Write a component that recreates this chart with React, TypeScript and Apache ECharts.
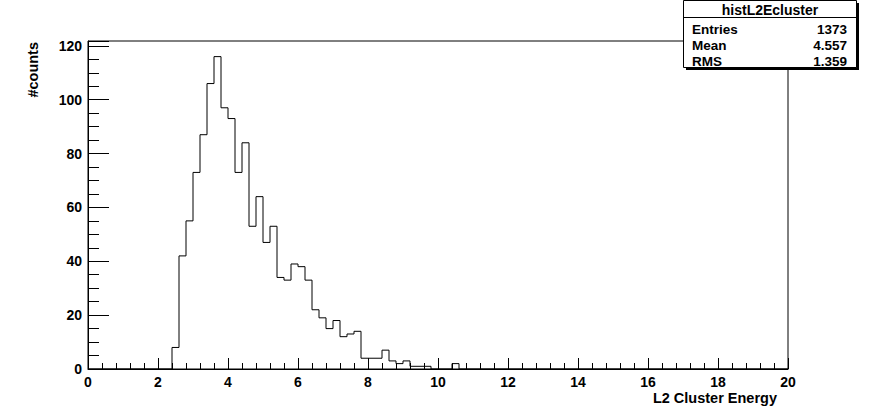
import React, { useEffect, useRef } from "react";
import * as echarts from "echarts";

// ---- data ----
const histName = "histL2Ecluster";
const xTitle = "L2 Cluster Energy";
const yTitle = "#counts";
const xMin = 0;
const xMax = 20;
const binWidth = 0.2;
const firstFilledEdge = 2.4; // left edge of first non-empty bin
const binCounts = [
  8, 42, 55, 73, 87, 106, 116, 97, 93, 73, 84, 53, 64, 47, 53, 34, 33, 39, 38, 33,
  22, 19, 15, 18, 12, 13, 14, 4, 4, 4, 7, 3, 2, 3, 1, 1, 1, 0, 0, 0, 2,
];
const yMax = 121.8;
const yMajorStep = 20;
const yMinorStep = 5;
const xMajorStep = 2;
const statLabels = ["Entries", "Mean", "RMS"];
const statValues = ["1373", "4.557", "1.359"];

const FONT = "'Liberation Sans', Arial, Helvetica, sans-serif";

function buildStepData(): [number, number][] {
  const nBins = Math.round((xMax - xMin) / binWidth);
  const startIdx = Math.round((firstFilledEdge - xMin) / binWidth);
  const pts: [number, number][] = [];
  let last = 0;
  for (let i = 0; i < nBins; i++) {
    const edge = +(xMin + i * binWidth).toFixed(6);
    const j = i - startIdx;
    const v = j >= 0 && j < binCounts.length ? binCounts[j] : 0;
    pts.push([edge, v]);
    last = v;
  }
  pts.push([xMax, last]);
  return pts;
}

export default function App() {
  const ref = useRef<HTMLDivElement>(null);
  useEffect(() => {
    if (!ref.current) return;
    const chart = echarts.init(ref.current, undefined, { renderer: "svg" });
    const boxL = 683.5;
    const boxT = 0.5;
    const boxW = 173;
    const boxH = 67;
    const rowYs = [29.5, 45.5, 61];
    const option: any = {
      animation: false,
      backgroundColor: "#fff",
      textStyle: { fontFamily: FONT },
      grid: {
        left: 88,
        right: 87,
        top: 41,
        bottom: 42,
        show: true,
        borderColor: "#000",
        borderWidth: 1,
        backgroundColor: "transparent",
        containLabel: false,
        outerBoundsMode: "none",
      },
      xAxis: {
        type: "value",
        min: xMin,
        max: xMax,
        interval: xMajorStep,
        axisLine: { show: true, onZero: false, lineStyle: { color: "#000", width: 1 } },
        axisTick: { show: true, inside: true, length: 11, lineStyle: { color: "#000" } },
        minorTick: { show: true, splitNumber: 5, length: 6, lineStyle: { color: "#000" } },
        splitLine: { show: false },
        minorSplitLine: { show: false },
        axisLabel: {
          color: "#000",
          fontWeight: "bold",
          fontSize: 14,
          fontFamily: FONT,
          margin: 6,
        },
      },
      yAxis: [
        {
          type: "value",
          min: 0,
          max: yMax,
          interval: yMajorStep,
          axisLine: { show: true, onZero: false, lineStyle: { color: "#000", width: 1 } },
          axisTick: { show: true, inside: true, length: 21, lineStyle: { color: "#000" } },
          splitLine: { show: false },
          axisLabel: {
            color: "#000",
            fontWeight: "bold",
            fontSize: 14,
            fontFamily: FONT,
            margin: 6,
            formatter: (v: number) =>
              Math.abs(v / yMajorStep - Math.round(v / yMajorStep)) < 1e-6 ? String(v) : "",
          },
        },
        {
          type: "value",
          position: "left",
          offset: 0,
          min: 0,
          max: yMax,
          interval: yMinorStep,
          axisLine: { show: false },
          axisTick: { show: true, inside: true, length: 11, lineStyle: { color: "#000" } },
          axisLabel: { show: false },
          splitLine: { show: false },
        },
      ],
      series: [
        {
          type: "line",
          step: "end",
          xAxisIndex: 0,
          yAxisIndex: 0,
          data: buildStepData(),
          showSymbol: false,
          symbol: "none",
          lineStyle: { color: "#000", width: 1 },
          silent: true,
        },
      ],
      graphic: [
        {
          type: "text",
          x: 777,
          y: 397.5,
          style: {
            text: xTitle,
            fill: "#000",
            font: `bold 14.5px ${FONT}`,
            align: "right",
            verticalAlign: "middle",
          },
        },
        {
          type: "text",
          x: 33,
          y: 42,
          rotation: Math.PI / 2,
          style: {
            text: yTitle,
            fill: "#000",
            font: `bold 14.5px ${FONT}`,
            align: "right",
            verticalAlign: "middle",
          },
        },
        {
          type: "rect",
          shape: { x: boxL + 2.5, y: boxT + 2.5, width: boxW, height: boxH },
          style: { fill: "#000" },
        },
        {
          type: "rect",
          shape: { x: boxL, y: boxT, width: boxW, height: boxH },
          style: { fill: "#fff", stroke: "#000", lineWidth: 1 },
        },
        {
          type: "line",
          shape: { x1: boxL, y1: 17.5, x2: boxL + boxW, y2: 17.5 },
          style: { stroke: "#000", lineWidth: 1 },
        },
        {
          type: "text",
          x: boxL + boxW / 2,
          y: 10,
          style: {
            text: histName,
            fill: "#000",
            font: `bold 14px ${FONT}`,
            align: "center",
            verticalAlign: "middle",
          },
        },
        ...statLabels.map((s, i) => ({
          type: "text",
          x: 692,
          y: rowYs[i],
          style: {
            text: s,
            fill: "#000",
            font: `bold 13.5px ${FONT}`,
            align: "left",
            verticalAlign: "middle",
          },
        })),
        ...statValues.map((s, i) => ({
          type: "text",
          x: 847,
          y: rowYs[i],
          style: {
            text: s,
            fill: "#000",
            font: `bold 13.5px ${FONT}`,
            align: "right",
            verticalAlign: "middle",
          },
        })),
      ],
    };
    chart.setOption(option);
    return () => chart.dispose();
  }, []);
  return (
    <div
      ref={ref}
      style={{ position: "fixed", left: 0, top: 0, width: 875, height: 411, background: "#fff" }}
    />
  );
}
